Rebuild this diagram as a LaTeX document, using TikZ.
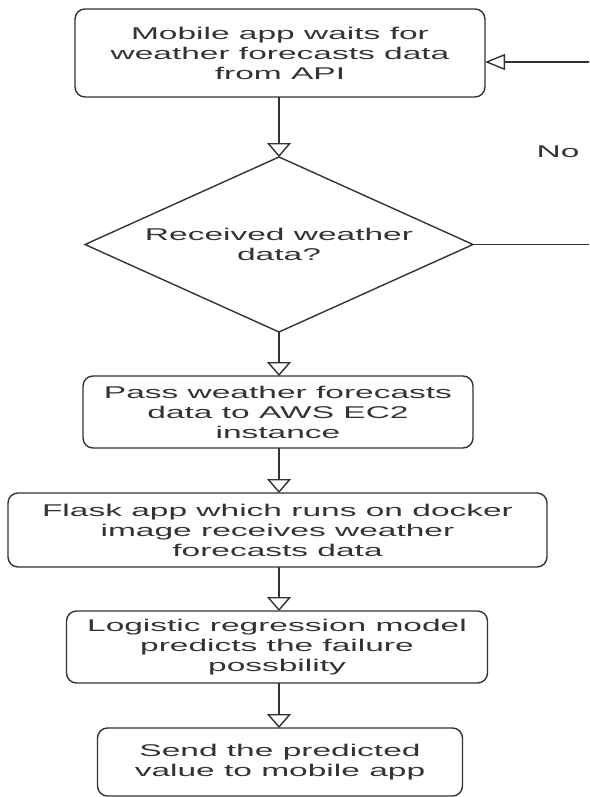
\documentclass[tikz,border=0pt]{standalone}
\usepackage{fontspec}
\newfontfamily\widefont[FakeStretch=1.97]{Liberation Sans}
\usetikzlibrary{shapes.geometric,arrows.meta}
\definecolor{ink}{HTML}{333333}
\tikzset{
  box/.style={draw=ink, line width=1.4pt, rounded corners=10pt, rectangle,
    inner sep=0pt, outer sep=0pt, align=center, text=ink,
    font=\widefont\fontsize{17}{20}\selectfont},
  decision/.style={draw=ink, line width=1.4pt, diamond, shape aspect=2.2,
    inner sep=0pt, outer sep=0pt, align=center, text=ink,
    minimum width=388pt, minimum height=175pt,
    font=\widefont\fontsize{17}{20}\selectfont},
  lbl/.style={text=ink, font=\widefont\fontsize{17}{20}\selectfont, inner sep=0pt},
  flow/.style={draw=ink, line width=1.4pt, -{Triangle[open, length=14pt, width=24pt]}},
  back/.style={draw=ink, line width=1.4pt, -{Triangle[open, length=20pt, width=16pt]}}
}
\begin{document}
\begin{tikzpicture}[x=1pt,y=-1pt]
\useasboundingbox (0,0) rectangle (589,797);
\clip (0,0) rectangle (589,797);
\node[box, minimum width=410pt, minimum height=88pt] (wait) at (280,53)
  {Mobile app waits for\\weather forecasts data\\from API};
\node[decision] (recv) at (279,244.5) {Received weather\\data?};
\node[box, minimum width=390pt, minimum height=72pt] (pass) at (278,412)
  {Pass weather forecasts\\data to AWS EC2\\instance};
\node[box, minimum width=539pt, minimum height=74pt] (flask) at (277.5,530)
  {Flask app which runs on docker\\image receives weather\\forecasts data};
\node[box, minimum width=421pt, minimum height=72pt] (logit) at (277,647)
  {Logistic regression model\\predicts the failure\\possbility};
\node[box, minimum width=365pt, minimum height=68pt] (send) at (280,762)
  {Send the predicted\\value to mobile app};
\node[lbl] (no) at (558,152) {No};
\coordinate (turn) at (600,150);
\draw[flow] (wait.south -| recv.north) -- (recv.north);
\draw[flow] (recv.south) -- (recv.south |- pass.north);
\draw[flow] (pass.south -| recv.south) -- (recv.south |- flask.north);
\draw[flow] (flask.south -| recv.south) -- (recv.south |- logit.north);
\draw[flow] (logit.south -| recv.south) -- (recv.south |- send.north);
\draw[back] (recv.east) -| (turn) |- ([yshift=-9pt]wait.east);
\end{tikzpicture}
\end{document}
